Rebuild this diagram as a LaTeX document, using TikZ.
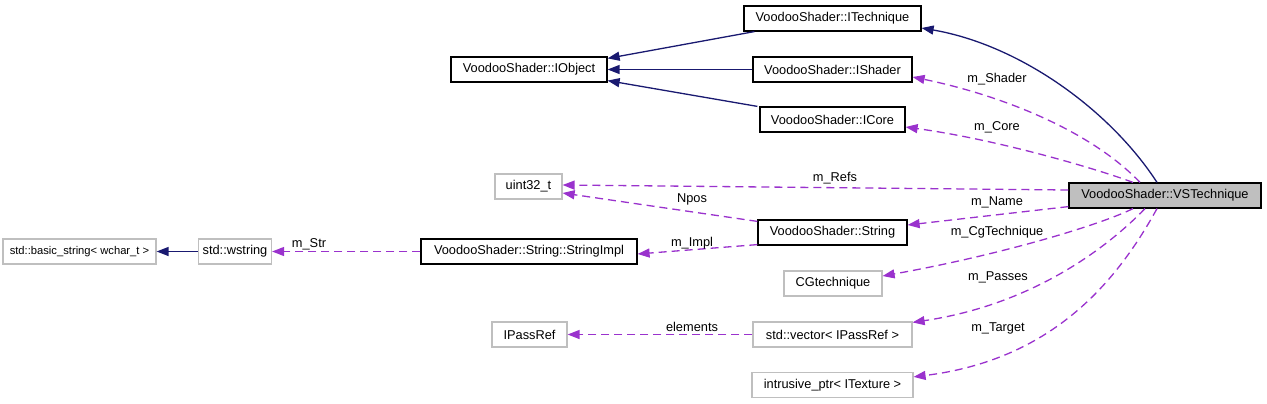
\documentclass[tikz,border=0pt]{standalone}
\usepackage{fontspec}
\setmainfont{Liberation Sans}
\usetikzlibrary{arrows.meta}
\definecolor{navy}{HTML}{191970}
\definecolor{purp}{HTML}{9A32CD}
\definecolor{gbord}{HTML}{BFBFBF}
\tikzset{
  box/.style={draw=black, line width=1.2pt, rectangle, inner sep=0pt, minimum height=25pt, font=\fontsize{12.8}{14}\selectfont},
  gbox/.style={box, draw=gbord},
  mainbox/.style={box, fill=gbord},
  inh/.style={draw=navy, line width=1.3pt, -{Triangle[length=12pt,width=9pt]}},
  use/.style={draw=purp, line width=1.3pt, dash pattern=on 8pt off 5pt, -{Triangle[length=12pt,width=9pt]}},
  lbl/.style={inner sep=0pt, font=\fontsize{12.8}{14}\selectfont}
}
\begin{document}
\begin{tikzpicture}[x=1pt,y=-1pt]
\useasboundingbox (0,0) rectangle (1267,404);
% nodes
\node[box, minimum width=177pt] (itech) at (832.5,18.5) {VoodooShader::ITechnique};
\node[box, minimum width=156pt] (iobj) at (529,69.5) {VoodooShader::IObject};
\node[box, minimum width=159pt] (ishader) at (832.5,69.5) {VoodooShader::IShader};
\node[box, minimum width=145pt] (icore) at (832.5,119.5) {VoodooShader::ICore};
\node[mainbox, minimum width=192pt] (vs) at (1165,195.5) {VoodooShader::VSTechnique};
\node[gbox, minimum width=67pt] (uint) at (528.5,186.5) {uint32\_t};
\node[box, minimum width=149pt] (str) at (832.5,232.5) {VoodooShader::String};
\node[box, minimum width=216pt] (impl) at (529,251.5) {VoodooShader::String::StringImpl};
\node[gbox, minimum width=73pt] (wstr) at (235,251.5) {std::wstring};
\node[gbox, minimum width=153pt, font=\fontsize{11.2}{14}\selectfont] (basic) at (79.5,251.5) {std::basic\_string< wchar\_t >};
\node[gbox, minimum width=98pt] (cg) at (833,283.5) {CGtechnique};
\node[gbox, minimum width=75pt] (ipass) at (529.5,334.5) {IPassRef};
\node[gbox, minimum width=159pt] (vec) at (832.5,334.5) {std::vector< IPassRef >};
\node[gbox, minimum width=161pt] (intr) at (832.5,385) {intrusive\_ptr< ITexture >};
% inheritance
\draw[inh] ([xshift=11pt]itech.south west) -- ([yshift=-2pt]iobj.north east);
\draw[inh] (ishader.west) -- (iobj.east);
\draw[inh] ([xshift=-2pt]icore.north west) -- ([yshift=2pt]iobj.south east);
\draw[inh] ([xshift=-8pt]vs.north) .. controls (1110,110) and (1020,45) .. ([yshift=-9.5pt]itech.east);
\draw[inh] (wstr.west) -- (basic.east);
% usage
\draw[use] ([xshift=-25pt]vs.north) .. controls (1090,130) and (1000,95) .. ([yshift=-7.5pt]ishader.east);
\draw[use] ([xshift=-32pt]vs.north) .. controls (1100,170) and (1000,140) .. ([yshift=-7.5pt]icore.east);
\draw[use] ([yshift=5.5pt]vs.west) -- ([yshift=1.5pt]uint.east);
\draw[use] ([yshift=2pt]vs.south west) -- ([yshift=7.5pt]str.east);
\draw[use] ([yshift=-2pt]str.north west) -- ([yshift=-6.5pt]uint.east);
\draw[use] ([yshift=1pt]str.south west) -- ([yshift=-2.5pt]impl.east);
\draw[use] (impl.west) -- (wstr.east);
\draw[use] ([xshift=-32pt]vs.south) .. controls (1100,225) and (1000,255) .. ([yshift=7.5pt]cg.east);
\draw[use] ([xshift=-20pt]vs.south) .. controls (1105,250) and (1030,305) .. ([yshift=-1pt]vec.north east);
\draw[use] (vec.west) -- (ipass.east);
\draw[use] ([xshift=-8pt]vs.south) .. controls (1115,285) and (1050,360) .. ([yshift=-5pt]intr.north east);
% labels
\node[lbl] (lshader) at (997,79) {m\_Shader};
\node[lbl] (lcore) at (997,127) {m\_Core};
\node[lbl] (lrefs) at (835,178) {m\_Refs};
\node[lbl] (lnpos) at (692,199) {Npos};
\node[lbl] (lname) at (997,202) {m\_Name};
\node[lbl] (limpl) at (692,243) {m\_Impl};
\node[lbl] (lstr) at (309,244) {m\_Str};
\node[lbl] (lcg) at (997,232) {m\_CgTechnique};
\node[lbl] (lpasses) at (998,277) {m\_Passes};
\node[lbl] (lelem) at (692,327) {elements};
\node[lbl] (ltarget) at (998,328) {m\_Target};
\end{tikzpicture}
\end{document}
